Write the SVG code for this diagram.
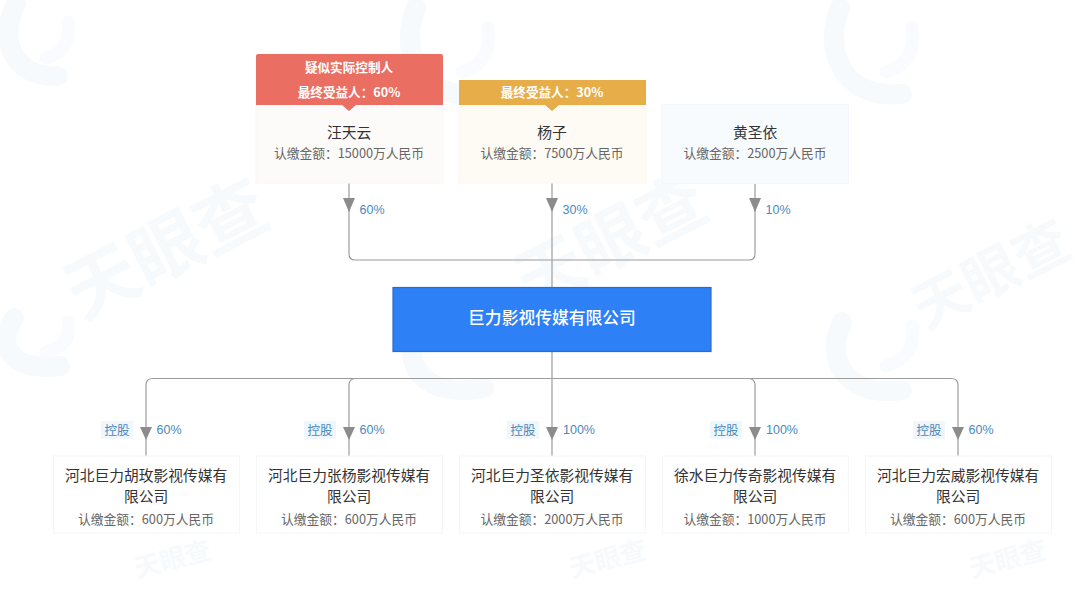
<svg xmlns="http://www.w3.org/2000/svg" width="1080" height="594" viewBox="0 0 1080 594">
<style>
text{font-family:"Noto Sans CJK SC","Liberation Sans",sans-serif;text-anchor:middle}
.wm{font-weight:700;fill:#f6fafd}
.wl{fill:none;stroke:#f6fafd;stroke-width:20;stroke-linecap:round}
.wl2{fill:none;stroke:#f9fbfe;stroke-width:13;stroke-linecap:round}
.card{fill:#fff;stroke:#f5f6f8;stroke-width:1}
.name{font-size:14.750px;fill:#333}
.cap{font-size:12.750px;fill:#666}
.tag{font-size:12.600px;font-weight:700;fill:#fff}
.pct{font-size:12.500px;fill:#4a88bd;font-family:"Liberation Sans",sans-serif}
.hold{font-size:12.500px;fill:#4a88bd}
.holdbg{fill:#eff6fc}
.line{fill:none;stroke:#9c9c9c;stroke-width:1.200}
.arr{fill:#8c8c8c}
</style>
<rect width="1080" height="594" fill="#fff"/>
<g id="watermark">
<g id="logo-1"><path class="wl" d="M16 4C-2 38 12 78 58 76"/><path class="wl2" d="M68 22C72 40 62 54 46 58"/></g>
<g id="logo-2"><path class="wl" d="M416 8C398 52 420 100 478 94"/><path class="wl2" d="M488 28C492 50 482 66 462 72"/></g>
<g id="logo-3"><path class="wl" d="M840 8C822 52 844 100 902 94"/><path class="wl2" d="M912 28C916 50 906 66 886 72"/></g>
<g id="logo-4"><path class="wl" d="M14 318C-4 345 10 372 60 366"/><path class="wl2" d="M68 322C72 338 62 348 46 352"/></g>
<g id="logo-5"><path class="wl" d="M412 350C412 380 440 396 484 388"/></g>
<g id="logo-6"><path class="wl" d="M842 322C824 360 846 398 902 390"/><path class="wl2" d="M912 326C916 346 906 360 886 366"/></g>
<text class="wm" font-size="72" transform="translate(178 272) rotate(-27)">天眼查</text>
<text class="wm" font-size="68" transform="translate(622 262) rotate(-27)">天眼查</text>
<text class="wm" font-size="56" transform="translate(1000 292) rotate(-27)">天眼查</text>
<text class="wm" font-size="26" transform="translate(175 568) rotate(-15)">天眼查</text>
<text class="wm" font-size="26" transform="translate(610 568) rotate(-15)">天眼查</text>
<text class="wm" font-size="26" transform="translate(1010 568) rotate(-15)">天眼查</text>
</g>
<g id="connectors">
<path class="line" d="M349 183V254Q349 260 355 260H749Q755 260 755 254V183"/>
<path class="line" d="M552 183V288"/>
<path class="line" d="M552 352V456"/>
<path class="line" d="M146 456V385Q146 378.500 153 378.500H951Q958 378.500 958 385V456"/>
<path class="line" d="M349 456V385Q349 378.500 356 378.500"/>
<path class="line" d="M755 456V385Q755 378.500 748 378.500"/>
<path class="arr" d="M343 198H355L349 212Z"/><path class="arr" d="M546 198H558L552 212Z"/><path class="arr" d="M749 198H761L755 212Z"/>
<path class="arr" d="M140 427H152L146 440Z"/><path class="arr" d="M343 427H355L349 440Z"/><path class="arr" d="M546 427H558L552 440Z"/><path class="arr" d="M749 427H761L755 440Z"/><path class="arr" d="M952 427H964L958 440Z"/>
</g>
<g id="node-wang">
<rect x="256" y="104" width="187" height="79" fill="#fdfbf9" stroke="#f9f7f4"/>
<path d="M256 56Q256 54 258 54H441Q443 54 443 56V105H356L349 111L342 105H256Z" fill="#eb6e63"/>
<text class="tag" x="349" y="72">疑似实际控制人</text>
<text class="tag" x="349" y="97">最终受益人：60%</text>
<text class="name" x="349" y="138">汪天云</text>
<text class="cap" x="349" y="158">认缴金额：15000万人民币</text>
</g>
<g id="node-yang">
<rect x="459" y="104" width="187" height="79" fill="#fefbf5" stroke="#fcf8ef"/>
<path d="M459 80H646V105H559L552 111L545 105H459Z" fill="#e7ad48"/>
<text class="tag" x="552" y="97">最终受益人：30%</text>
<text class="name" x="552" y="138">杨子</text>
<text class="cap" x="552" y="158">认缴金额：7500万人民币</text>
</g>
<g id="node-huang">
<rect x="662" y="104.500" width="186.500" height="79" fill="#f8fbfe" stroke="#f3f6fa"/>
<text class="name" x="755" y="138">黄圣依</text>
<text class="cap" x="755" y="158">认缴金额：2500万人民币</text>
</g>
<g id="node-main">
<rect x="393" y="287.500" width="318" height="64" fill="#2d80f5" stroke="#2a6cc6" stroke-width="1.200"/>
<text x="552" y="324" font-size="16.800" font-weight="500" fill="#fff">巨力影视传媒有限公司</text>
</g>
<g id="node-hu">
<rect class="card" x="53.500" y="456" width="186" height="77"/>
<text class="name" x="146" y="481">河北巨力胡玫影视传媒有</text><text class="name" x="146" y="502">限公司</text>
<text class="cap" x="146" y="524">认缴金额：600万人民币</text>
</g>
<g id="node-zhang">
<rect class="card" x="256.500" y="456" width="186" height="77"/>
<text class="name" x="349" y="481">河北巨力张杨影视传媒有</text><text class="name" x="349" y="502">限公司</text>
<text class="cap" x="349" y="524">认缴金额：600万人民币</text>
</g>
<g id="node-shengyi">
<rect class="card" x="459.500" y="456" width="186" height="77"/>
<text class="name" x="552" y="481">河北巨力圣依影视传媒有</text><text class="name" x="552" y="502">限公司</text>
<text class="cap" x="552" y="524">认缴金额：2000万人民币</text>
</g>
<g id="node-xushui">
<rect class="card" x="662.500" y="456" width="186" height="77"/>
<text class="name" x="755" y="481">徐水巨力传奇影视传媒有</text><text class="name" x="755" y="502">限公司</text>
<text class="cap" x="755" y="524">认缴金额：1000万人民币</text>
</g>
<g id="node-hongwei">
<rect class="card" x="865.500" y="456" width="186" height="77"/>
<text class="name" x="958" y="481">河北巨力宏威影视传媒有</text><text class="name" x="958" y="502">限公司</text>
<text class="cap" x="958" y="524">认缴金额：600万人民币</text>
</g>
<g id="edge-labels">
<text class="pct" x="372" y="213.500">60%</text><text class="pct" x="575" y="213.500">30%</text><text class="pct" x="778" y="213.500">10%</text>
<rect class="holdbg" x="101" y="421" width="32" height="18"/><rect class="holdbg" x="304" y="421" width="32" height="18"/><rect class="holdbg" x="507" y="421" width="32" height="18"/><rect class="holdbg" x="710" y="421" width="32" height="18"/><rect class="holdbg" x="913" y="421" width="32" height="18"/>
<text class="hold" x="117" y="434.500">控股</text><text class="hold" x="320" y="434.500">控股</text><text class="hold" x="523" y="434.500">控股</text><text class="hold" x="726" y="434.500">控股</text><text class="hold" x="929" y="434.500">控股</text>
<text class="pct" x="169" y="433.500">60%</text><text class="pct" x="372" y="433.500">60%</text><text class="pct" x="579" y="433.500">100%</text><text class="pct" x="782" y="433.500">100%</text><text class="pct" x="981" y="433.500">60%</text>
</g>
</svg>
